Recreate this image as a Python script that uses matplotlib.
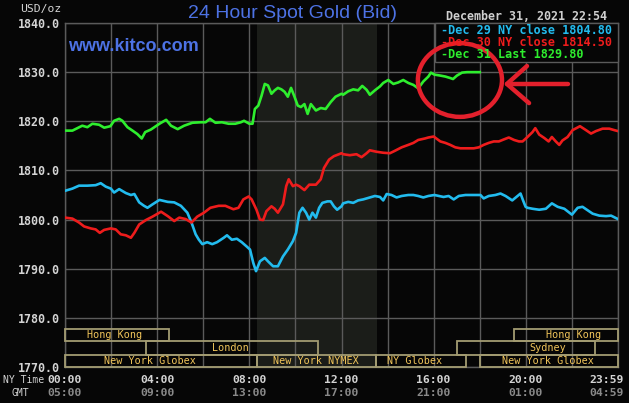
import matplotlib
matplotlib.use("Agg")
import matplotlib.pyplot as plt
from matplotlib.patches import Rectangle, Ellipse
from matplotlib.transforms import blended_transform_factory

# ---------------- data ----------------
dec29_h = [0, 0.32, 0.61, 0.97, 1.33, 1.55, 1.77, 1.99, 2.13, 2.35, 2.64, 2.86, 3.01, 3.22, 3.43, 3.58, 3.80,
           4.10, 4.46, 4.74, 5.03, 5.31, 5.49, 5.67, 5.81, 5.96, 6.17, 6.39, 6.60, 6.89, 7.03, 7.24, 7.46, 7.67, 7.89,
           8.03, 8.17, 8.29, 8.46, 8.67, 8.81, 9.03, 9.24, 9.46, 9.67, 9.89, 10.03, 10.17, 10.31, 10.46, 10.60, 10.74,
           10.89, 11.03, 11.17, 11.39, 11.53, 11.67, 11.81, 12.0,
           12.07, 12.29, 12.51, 12.72, 12.94, 13.23, 13.45, 13.67, 13.81, 13.96, 14.17, 14.39, 14.61, 14.90, 15.12,
           15.33, 15.55, 15.77, 16.03,
           16.43, 16.65, 16.87, 17.09, 17.38, 17.74, 18.03, 18.17, 18.39, 18.68, 18.90, 19.12, 19.41, 19.59, 19.77,
           19.88, 19.99,
           20.07, 20.29, 20.58, 20.87, 21.13, 21.38, 21.67, 22.0, 22.25, 22.46, 22.68, 22.90, 23.19, 23.48, 23.70, 24.0]
dec29_v = [1805.85, 1806.3, 1806.9, 1806.9, 1807.0, 1807.4, 1806.7, 1806.3, 1805.5, 1806.2, 1805.4, 1805.0, 1805.2,
           1803.5, 1802.8, 1802.4, 1803.1,
           1804.0, 1803.6, 1803.5, 1802.8, 1801.4, 1799.4, 1797.0, 1795.9, 1795.0, 1795.4, 1795.0, 1795.4, 1796.3,
           1796.8, 1795.9, 1796.1, 1795.4, 1794.5,
           1793.9, 1791.2, 1789.5, 1791.5, 1792.2, 1791.5, 1790.5, 1790.5, 1792.5, 1793.9, 1795.6, 1797.3, 1801.4,
           1802.4, 1801.4, 1800.0, 1801.4, 1800.4, 1802.4, 1803.4, 1803.7, 1803.7, 1802.7, 1802.0, 1802.7,
           1803.3, 1803.6, 1803.4, 1803.9, 1804.1, 1804.5, 1804.8, 1804.6, 1803.9, 1805.2, 1805.0, 1804.5, 1804.8,
           1805.0, 1805.0, 1804.8, 1804.5, 1804.8, 1805.0,
           1804.6, 1804.8, 1804.1, 1804.8, 1805.0, 1805.0, 1805.0, 1804.3, 1804.8, 1805.0, 1805.3, 1804.8, 1803.9,
           1804.6, 1805.3, 1803.9, 1802.6,
           1802.4, 1802.2, 1802.0, 1802.2, 1803.3, 1802.6, 1802.2, 1801.0, 1802.4, 1802.6, 1801.9, 1801.2, 1800.8,
           1800.7, 1800.8, 1800.1]

dec30_h = [0, 0.32, 0.61, 0.83, 1.12, 1.33, 1.51, 1.70, 1.99, 2.20, 2.42, 2.64, 2.86, 3.01, 3.22, 3.51, 3.80,
           4.17, 4.46, 4.74, 4.96, 5.24, 5.49, 5.74, 6.03, 6.31, 6.67, 6.96, 7.31, 7.53, 7.74, 7.97,
           8.10, 8.31, 8.46, 8.60, 8.74, 8.96, 9.10, 9.24, 9.46, 9.60, 9.71, 9.89, 10.03, 10.17, 10.39, 10.60, 10.89,
           11.10, 11.24, 11.46, 11.67, 12.0,
           12.07, 12.36, 12.65, 12.87, 13.09, 13.23, 13.52, 13.81, 14.10, 14.32, 14.61, 14.90, 15.12, 15.33, 15.62,
           15.77, 16.0,
           16.29, 16.51, 16.72, 16.94, 17.16, 17.45, 17.74, 17.96, 18.17, 18.39, 18.61, 18.83, 19.04, 19.26, 19.49,
           19.70,
           19.86, 20.07, 20.29, 20.41, 20.58, 20.80, 20.99, 21.13, 21.30, 21.45, 21.59, 21.81, 22.03, 22.35, 22.61,
           22.83, 23.04, 23.33, 23.62, 23.84, 24.0]
dec30_v = [1800.4, 1800.2, 1799.4, 1798.6, 1798.2, 1798.0, 1797.3, 1797.9, 1798.2, 1798.0, 1797.0, 1796.8, 1796.3,
           1797.3, 1799.0, 1799.9, 1800.6,
           1801.6, 1800.7, 1799.7, 1800.4, 1800.1, 1799.4, 1800.6, 1801.4, 1802.4, 1802.8, 1802.8, 1802.1, 1802.4,
           1804.1, 1804.7,
           1804.1, 1802.0, 1800.0, 1799.9, 1801.7, 1802.7, 1802.2, 1801.4, 1803.1, 1806.8, 1808.2, 1806.8, 1807.1,
           1806.8, 1806.0, 1807.1, 1807.1, 1808.2, 1810.5, 1812.2, 1812.9, 1813.5,
           1813.3, 1813.1, 1813.3, 1812.7, 1813.5, 1814.1, 1813.8, 1813.6, 1813.5, 1814.0, 1814.7, 1815.2, 1815.6,
           1816.2, 1816.5, 1816.7, 1816.9,
           1815.9, 1815.6, 1815.2, 1814.7, 1814.5, 1814.5, 1814.5, 1814.7, 1815.2, 1815.6, 1815.9, 1815.9, 1816.3,
           1816.7, 1816.2, 1815.9,
           1815.9, 1816.8, 1817.8, 1818.6, 1817.3, 1816.6, 1815.9, 1816.8, 1815.9, 1815.2, 1816.1, 1816.8, 1818.2,
           1819.0, 1818.2, 1817.5, 1818.0, 1818.5, 1818.5, 1818.2, 1818.0]

dec31_h = [0, 0.32, 0.75, 0.97, 1.19, 1.48, 1.70, 1.97, 2.13, 2.35, 2.49, 2.71, 2.93, 3.14, 3.33, 3.48, 3.72,
           4.10, 4.39, 4.60, 4.89, 5.17, 5.53, 5.89, 6.10, 6.29, 6.53, 6.81, 7.10, 7.39, 7.63, 7.77, 8.0,
           8.14, 8.24, 8.39, 8.53, 8.67, 8.81, 8.96, 9.10, 9.24, 9.39, 9.53, 9.67, 9.81, 9.96, 10.10, 10.24, 10.39,
           10.53, 10.67, 10.89, 11.10, 11.31, 11.53, 11.74, 12.0,
           12.07, 12.29, 12.51, 12.72, 12.90, 13.09, 13.23, 13.45, 13.67, 13.81, 14.03, 14.25, 14.46, 14.68, 14.90,
           15.12, 15.33, 15.55, 15.77, 15.88, 16.03,
           16.29, 16.51, 16.72, 16.84, 17.01, 17.23, 17.45, 18.0]
dec31_v = [1818.1, 1818.1, 1819.1, 1818.8, 1819.5, 1819.3, 1818.7, 1819.0, 1820.1, 1820.5, 1820.1, 1818.8, 1818.1,
           1817.4, 1816.5, 1817.8, 1818.3,
           1819.5, 1820.3, 1819.1, 1818.4, 1819.1, 1819.7, 1819.8, 1819.8, 1820.5, 1819.7, 1819.8, 1819.5, 1819.5,
           1819.8, 1820.1, 1819.5,
           1819.5, 1822.5, 1823.2, 1825.2, 1827.6, 1827.3, 1825.6, 1826.3, 1826.8, 1826.5, 1826.0, 1825.0, 1826.8,
           1825.0, 1823.2, 1822.9, 1823.5, 1821.5, 1823.5, 1822.2, 1822.7, 1822.5, 1823.9, 1825.0, 1825.6,
           1825.4, 1826.1, 1826.5, 1826.3, 1827.2, 1826.4, 1825.4, 1826.3, 1827.1, 1827.8, 1828.4, 1827.6, 1827.9,
           1828.4, 1827.8, 1827.4, 1826.7, 1828.1, 1829.1, 1829.9, 1829.5,
           1829.3, 1829.1, 1828.8, 1828.6, 1829.3, 1829.9, 1830.0, 1830.0]

legend_labels = ["-Dec 29 NY close 1804.80", "-Dec 30 NY close 1814.50", "-Dec 31 Last 1829.80"]

y_ticks = [1770, 1780, 1790, 1800, 1810, 1820, 1830, 1840]
ny_hours = [0, 4, 8, 12, 16, 20, 23.5]
ny_labels = ["00:00", "04:00", "08:00", "12:00", "16:00", "20:00", "23:59"]
gmt_labels = ["05:00", "09:00", "13:00", "17:00", "21:00", "01:00", "04:59"]

session_names = ["Hong Kong", "London", "New York Globex", "New York NYMEX", "NY Globex",
                 "Sydney", "Hong Kong", "New York Globex"]
session_start = [0, 3.5, 0, 8.33, 13.5, 17.0, 19.5, 18.0]
session_end = [4.5, 11.0, 8.33, 13.5, 17.4, 23.0, 24, 24]
session_row = [0, 1, 2, 2, 2, 1, 0, 2]
session_text_h = [2.13, 7.16, 3.69, 10.9, 15.19, 20.96, 22.07, 20.96]

nymex_start, nymex_end = 8.33, 13.55

# ---------------- style ----------------
BG = "#060606"
GRID = "#5a5a5a"
CYAN = "#22bbee"
RED = "#ee1c1c"
GREEN = "#2eee2e"
BLUE = "#4d72e4"
TXT = "#d4d4d4"
MONO = "DejaVu Sans Mono"

W, H = 629, 403
fig = plt.figure(figsize=(W / 100, H / 100), dpi=100)
fig.patch.set_facecolor(BG)
ax = fig.add_axes([65 / W, 1 - 367 / H, (618 - 65) / W, (367 - 23) / H])
ax.set_facecolor(BG)
ax.set_xlim(0, 24)
ax.set_ylim(1770, 1840)

ax.axvspan(nymex_start, nymex_end, color="#1b1d19", zorder=0, lw=0)

ax.set_xticks(range(0, 25, 2))
ax.set_xticklabels([])
ax.set_yticks(y_ticks)
ax.set_yticklabels([f"{v:.1f}" for v in y_ticks], family=MONO, weight="bold", fontsize=8.4, color=TXT)
ax.tick_params(length=0, pad=4)
ax.grid(True, color=GRID, lw=1.0, zorder=1)
ax.set_axisbelow(True)
for s in ax.spines.values():
    s.set_color(GRID)
    s.set_linewidth(1.0)

ax.plot(dec29_h, dec29_v, color=CYAN, lw=1.9, zorder=3, solid_joinstyle="round")
ax.plot(dec30_h, dec30_v, color=RED, lw=1.9, zorder=3, solid_joinstyle="round")
ax.plot(dec31_h, dec31_v, color=GREEN, lw=1.9, zorder=3, solid_joinstyle="round")

# session boxes
row_bounds = [(1775.3, 1777.75), (1772.45, 1775.3), (1770.0, 1772.45)]
for name, s, e, r, th in zip(session_names, session_start, session_end, session_row, session_text_h):
    y0, y1 = row_bounds[r]
    ax.add_patch(Rectangle((s, y0), e - s, y1 - y0, fill=False, edgecolor="#a39c72", lw=1.3, zorder=4,
                           clip_on=False))
    ax.text(th, (y0 + y1) / 2, name, ha="center", va="center", family=MONO, fontsize=7.3,
            color="#f0c45a", zorder=5)

# legend box
lx0 = (435 - 65) / (618 - 65)
ly0 = 1 - (62 - 23) / (367 - 23)
ax.add_patch(Rectangle((lx0, ly0), 1 - lx0, 1 - ly0, transform=ax.transAxes, facecolor=BG,
                       edgecolor=GRID, lw=1.0, zorder=6, clip_on=False))
for i, (lab, col) in enumerate(zip(legend_labels, [CYAN, RED, GREEN])):
    fig.text(441 / W, 1 - (31 + 11.7 * i) / H, lab, ha="left", va="center", family=MONO,
             weight="bold", fontsize=8.5, color=col, zorder=7)

# time labels
tr = blended_transform_factory(ax.transData, fig.transFigure)
for h, a, b in zip(ny_hours, ny_labels, gmt_labels):
    ax.text(h, 1 - 380 / H, a, transform=tr, ha="center", va="center", family=MONO, weight="bold",
            fontsize=8.2, color=TXT, clip_on=False)
    ax.text(h, 1 - 393 / H, b, transform=tr, ha="center", va="center", family=MONO, weight="bold",
            fontsize=8.2, color="#8a8a8a", clip_on=False)
fig.text(3 / W, 1 - 380 / H, "NY Time", ha="left", va="center", family=MONO, fontsize=7.0, color=TXT)
fig.text(11 / W, 1 - 393 / H, "GMT", ha="left", va="center", family=MONO, fontsize=7.0, color=TXT)
fig.text(61 / W, 1 - 9 / H, "USD/oz", ha="right", va="center", family=MONO, fontsize=8.2, color=TXT)

fig.text(293 / W, 1 - 18.5 / H, "24 Hour Spot Gold (Bid)", ha="center", va="baseline",
         family="Liberation Sans", fontsize=14, color=BLUE)
fig.text(68 / W, 1 - 51 / H, "www.kitco.com", ha="left", va="baseline",
         family="Liberation Sans", weight="bold", fontsize=13, color=BLUE, zorder=8)
fig.text(607 / W, 1 - 16 / H, "December 31, 2021 22:54", ha="right", va="center", family=MONO,
         weight="bold", fontsize=8.4, color="#cfcfcf")

# red hand-drawn annotation (circle + arrow)
ANN = "#e3202c"
ax.add_patch(Ellipse((17.14, 1828.4), 3.65, 15.0, fill=False, edgecolor=ANN, lw=3.2, zorder=9,
                     clip_on=False))
ax.plot([19.18, 21.83], [1827.6, 1827.6], color=ANN, lw=3.2, zorder=9, solid_capstyle="round")
ax.plot([20.05, 19.18, 20.14], [1831.25, 1827.6, 1823.7], color=ANN, lw=3.2, zorder=9,
        solid_capstyle="round", solid_joinstyle="round")

fig.savefig("out.png", dpi=100, facecolor=BG)
